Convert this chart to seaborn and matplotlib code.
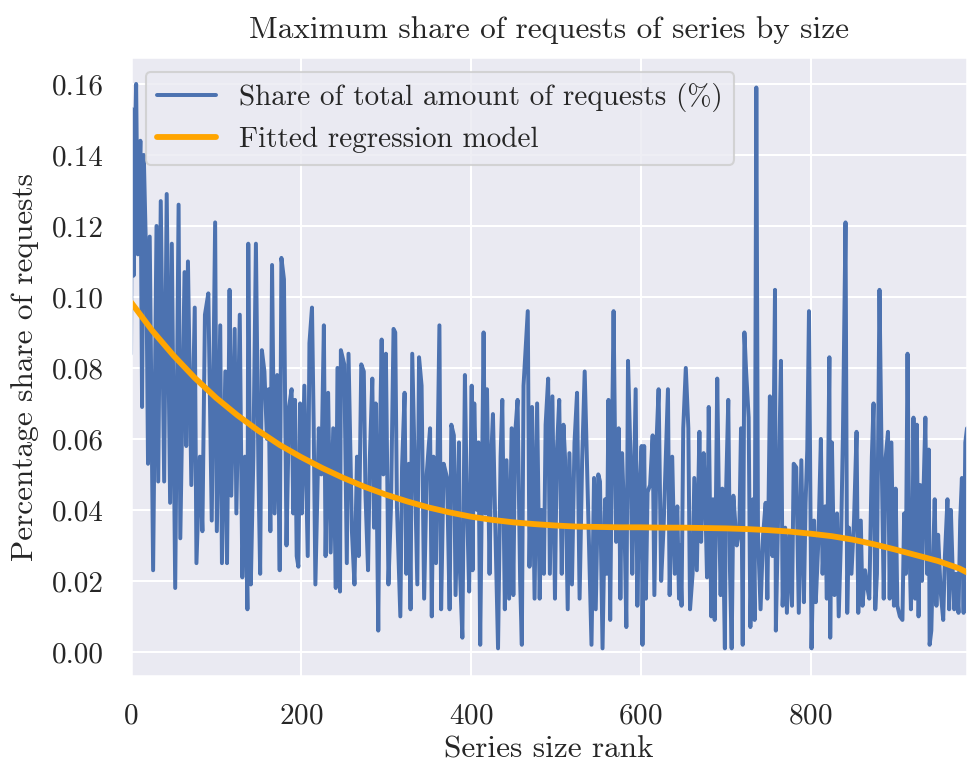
import matplotlib
matplotlib.use("Agg")
import matplotlib.pyplot as plt
import seaborn as sns
import pandas as pd

# Series size rank and the maximum share of requests observed at that rank
ranks = [
    0, 1, 3, 4, 6, 8, 11, 13, 15, 18, 20, 22, 26, 30, 32, 35, 39, 42, 46, 48,
    52, 56, 58, 63, 65, 67, 71, 75, 77, 81, 84, 87, 91, 95, 99, 101, 105, 107, 111, 113,
    116, 118, 122, 124, 128, 131, 134, 137, 138, 141, 144, 147, 150, 152, 154, 157, 160, 162, 164, 166,
    169, 172, 175, 177, 180, 183, 186, 189, 191, 193, 195, 197, 199, 201, 204, 208, 210, 213, 215, 217,
    221, 224, 227, 229, 232, 235, 238, 241, 243, 246, 247, 251, 254, 256, 260, 263, 266, 268, 271, 274,
    276, 279, 281, 284, 286, 288, 291, 293, 295, 297, 300, 303, 306, 309, 311, 313, 317, 319, 322, 324,
    327, 329, 331, 334, 337, 339, 342, 345, 348, 352, 354, 356, 359, 363, 365, 368, 372, 375, 377, 380,
    382, 386, 387, 390, 393, 395, 398, 401, 402, 404, 407, 409, 411, 415, 417, 419, 422, 424, 426, 429,
    432, 435, 437, 440, 442, 445, 448, 450, 452, 455, 458, 460, 462, 467, 469, 472, 475, 478, 481, 483,
    486, 488, 491, 493, 496, 499, 501, 504, 507, 509, 511, 514, 516, 519, 522, 525, 528, 531, 534, 537,
    539, 542, 545, 547, 550, 552, 555, 558, 560, 562, 564, 566, 568, 571, 574, 576, 578, 581, 583, 585,
    588, 590, 594, 596, 598, 601, 602, 604, 606, 608, 611, 614, 616, 619, 621, 624, 627, 630, 632, 634,
    637, 640, 643, 645, 646, 648, 650, 653, 656, 658, 661, 663, 666, 669, 671, 674, 676, 678, 680, 683,
    685, 687, 690, 692, 694, 696, 699, 700, 703, 705, 707, 709, 713, 716, 718, 720, 722, 724, 727, 729,
    732, 734, 736, 738, 741, 744, 747, 749, 752, 754, 755, 758, 759, 762, 765, 767, 770, 772, 775, 778,
    780, 783, 786, 789, 792, 794, 796, 798, 801, 804, 806, 809, 812, 814, 817, 819, 822, 823, 825, 828,
    831, 833, 836, 838, 841, 843, 845, 848, 851, 854, 856, 859, 861, 864, 866, 869, 872, 874, 876, 878,
    881, 883, 886, 888, 891, 893, 895, 898, 900, 902, 905, 908, 910, 912, 914, 916, 918, 920, 921, 923,
    925, 927, 929, 931, 933, 935, 937, 939, 940, 942, 944, 946, 948, 950, 953, 956, 958, 961, 963, 965,
    967, 969, 971, 974, 976, 978, 980, 982, 984,
]
shares = [
    0.084, 0.153, 0.106, 0.136, 0.160, 0.112, 0.144, 0.069, 0.140, 0.109, 0.053, 0.117, 0.023, 0.120, 0.048, 0.127, 0.048, 0.129, 0.042, 0.115,
    0.018, 0.126, 0.032, 0.107, 0.058, 0.110, 0.047, 0.097, 0.025, 0.055, 0.034, 0.095, 0.101, 0.037, 0.121, 0.034, 0.092, 0.025, 0.079, 0.025,
    0.102, 0.044, 0.091, 0.039, 0.095, 0.021, 0.055, 0.012, 0.115, 0.019, 0.055, 0.115, 0.050, 0.022, 0.085, 0.079, 0.060, 0.074, 0.034, 0.109,
    0.039, 0.078, 0.023, 0.111, 0.105, 0.030, 0.069, 0.074, 0.039, 0.071, 0.027, 0.024, 0.070, 0.039, 0.075, 0.027, 0.087, 0.097, 0.064, 0.019,
    0.063, 0.050, 0.092, 0.027, 0.073, 0.028, 0.063, 0.018, 0.080, 0.017, 0.085, 0.081, 0.025, 0.084, 0.034, 0.019, 0.055, 0.027, 0.081, 0.079,
    0.044, 0.023, 0.054, 0.077, 0.035, 0.070, 0.006, 0.060, 0.088, 0.050, 0.084, 0.019, 0.041, 0.091, 0.090, 0.041, 0.010, 0.052, 0.073, 0.022,
    0.053, 0.012, 0.084, 0.052, 0.019, 0.083, 0.075, 0.015, 0.050, 0.063, 0.010, 0.055, 0.025, 0.092, 0.012, 0.053, 0.049, 0.012, 0.064, 0.061,
    0.016, 0.059, 0.024, 0.004, 0.078, 0.046, 0.017, 0.075, 0.023, 0.070, 0.040, 0.059, 0.002, 0.090, 0.039, 0.074, 0.022, 0.055, 0.067, 0.033,
    0.001, 0.055, 0.071, 0.012, 0.054, 0.015, 0.063, 0.016, 0.061, 0.071, 0.020, 0.002, 0.075, 0.096, 0.024, 0.069, 0.015, 0.070, 0.015, 0.040,
    0.022, 0.064, 0.077, 0.022, 0.072, 0.015, 0.055, 0.071, 0.022, 0.064, 0.054, 0.012, 0.056, 0.019, 0.059, 0.073, 0.015, 0.054, 0.079, 0.050,
    0.030, 0.002, 0.049, 0.012, 0.050, 0.048, 0.001, 0.043, 0.022, 0.071, 0.009, 0.057, 0.096, 0.031, 0.063, 0.015, 0.056, 0.034, 0.007, 0.082,
    0.054, 0.022, 0.074, 0.013, 0.043, 0.058, 0.002, 0.058, 0.015, 0.045, 0.047, 0.061, 0.016, 0.062, 0.074, 0.020, 0.036, 0.059, 0.074, 0.016,
    0.055, 0.022, 0.041, 0.015, 0.030, 0.013, 0.063, 0.080, 0.063, 0.012, 0.022, 0.049, 0.023, 0.062, 0.031, 0.056, 0.042, 0.021, 0.069, 0.010,
    0.043, 0.009, 0.077, 0.042, 0.016, 0.046, 0.001, 0.041, 0.071, 0.023, 0.001, 0.044, 0.030, 0.034, 0.063, 0.002, 0.090, 0.079, 0.066, 0.007,
    0.043, 0.009, 0.159, 0.033, 0.012, 0.033, 0.042, 0.015, 0.072, 0.034, 0.027, 0.102, 0.006, 0.042, 0.082, 0.013, 0.035, 0.011, 0.033, 0.013,
    0.053, 0.052, 0.011, 0.054, 0.014, 0.042, 0.057, 0.096, 0.001, 0.037, 0.014, 0.031, 0.060, 0.022, 0.041, 0.015, 0.083, 0.004, 0.059, 0.016,
    0.039, 0.010, 0.035, 0.062, 0.121, 0.011, 0.035, 0.022, 0.037, 0.062, 0.011, 0.037, 0.013, 0.023, 0.019, 0.015, 0.055, 0.070, 0.012, 0.022,
    0.102, 0.064, 0.015, 0.054, 0.062, 0.015, 0.059, 0.013, 0.046, 0.013, 0.010, 0.009, 0.039, 0.022, 0.084, 0.033, 0.012, 0.035, 0.066, 0.015,
    0.064, 0.010, 0.047, 0.020, 0.047, 0.066, 0.022, 0.057, 0.002, 0.006, 0.026, 0.043, 0.013, 0.033, 0.017, 0.009, 0.027, 0.043, 0.012, 0.040,
    0.024, 0.012, 0.022, 0.011, 0.037, 0.049, 0.011, 0.059, 0.063,
]

# Fitted regression model evaluated along the rank axis
fit_ranks = [0, 25, 50, 75, 100, 125, 150, 175, 200, 225, 250, 275, 300, 325, 350, 375, 400, 425, 450, 475,
             500, 525, 550, 575, 600, 625, 650, 675, 700, 725, 750, 775, 800, 825, 850, 875, 900, 925, 950, 975, 984]
fit_shares = [0.0985, 0.0905, 0.0835, 0.0772, 0.0716, 0.0667, 0.0623, 0.0583, 0.0549, 0.0518, 0.0490, 0.0465,
              0.0443, 0.0424, 0.0407, 0.0393, 0.0381, 0.0372, 0.0365, 0.0360, 0.0356, 0.0353, 0.0352, 0.0351,
              0.0351, 0.0350, 0.0350, 0.0349, 0.0348, 0.0346, 0.0343, 0.0339, 0.0333, 0.0326, 0.0316, 0.0303,
              0.0288, 0.0272, 0.0256, 0.0235, 0.0224]

sns.set_theme(style="darkgrid")
plt.rcParams["font.family"] = ["cmr10", "DejaVu Serif"]
plt.rcParams["axes.formatter.use_mathtext"] = True
plt.rcParams["mathtext.fontset"] = "cm"

data = pd.DataFrame({"rank": ranks, "share": shares})
fit = pd.DataFrame({"rank": fit_ranks, "share": fit_shares})

fig = plt.figure(figsize=(967 / 150, 765 / 150), dpi=150)
ax = fig.add_axes([0.1355, 0.1163, 1.0 - 0.1355, 0.9255 - 0.1163])

sns.lineplot(data=data, x="rank", y="share", ax=ax, color="#4C72B0", linewidth=1.9,
             label="Share of total amount of requests (%)")
sns.lineplot(data=fit, x="rank", y="share", ax=ax, color="orange", linewidth=2.8,
             label="Fitted regression model")

ax.set_xlim(0, 984)
ax.set_ylim(-0.0068, 0.1676)
ax.set_yticks([0.00, 0.02, 0.04, 0.06, 0.08, 0.10, 0.12, 0.14, 0.16])
ax.set_yticklabels(["0.00", "0.02", "0.04", "0.06", "0.08", "0.10", "0.12", "0.14", "0.16"])
ax.set_xticks([0, 200, 400, 600, 800])
ax.tick_params(labelsize=14, pad=7)

ax.set_title("Maximum share of requests of series by size", fontsize=15, pad=9)
ax.set_xlabel("Series size rank", fontsize=15, labelpad=3)
ax.set_ylabel("Percentage share of requests", fontsize=15, labelpad=6)

ax.legend(loc="upper left", fontsize=14, frameon=True)

fig.savefig("out.png", dpi=150)
